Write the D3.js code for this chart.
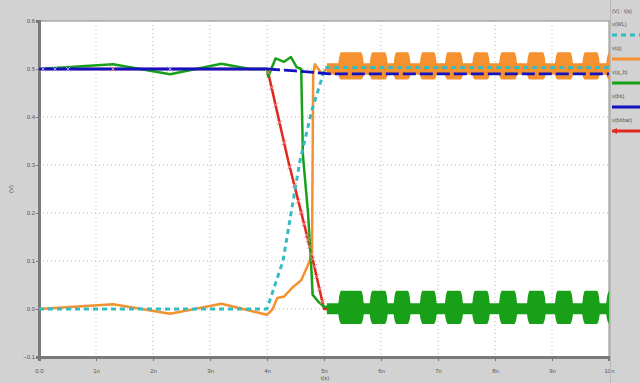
<!DOCTYPE html>
<html>
<head>
<meta charset="utf-8">
<script src="https://cdn.jsdelivr.net/npm/d3@7"></script>
<style>
  body { margin: 0; background: #d2d2d2; }
  svg { display: block; }
  text { font-family: "Liberation Sans", "DejaVu Sans", sans-serif; fill: #555; }
</style>
</head>
<body>
<svg width="640" height="383"></svg>
<script>
// ===== data (t in ns, values in V) =====
var xTicks = [0, 1, 2, 3, 4, 5, 6, 7, 8, 9, 10];
var xTickLabels = ["0.0", "1n", "2n", "3n", "4n", "5n", "6n", "7n", "8n", "9n", "10n"];
var yTicks = [-0.1, 0.0, 0.1, 0.2, 0.3, 0.4, 0.5, 0.6];

var seriesNames = ["v(WL)", "v(q)", "v(q_b)", "v(bit)", "v(bitbar)"];

var wlT = [0, 4.0, 4.28, 4.58, 4.79, 5.02, 10];
var wlV = [0, 0, 0.1, 0.31, 0.415, 0.503, 0.503];

var bitT = [0, 4.0];
var bitV = [0.5, 0.5];
var bitLateT = [4.0, 4.5, 4.9, 5.1, 10];
var bitLateV = [0.5, 0.496, 0.492, 0.49, 0.49];
var bitMarkT = [0.07, 0.28, 0.51, 2.3];

var bitbarT = [0, 4.0, 4.02, 4.37, 4.75, 5.0, 10];
var bitbarV = [0.5, 0.5, 0.493, 0.31, 0.13, 0.0, 0.0];
var bitbarMarkT = [1.3, 4.02, 4.08, 4.15, 4.22, 4.3, 4.4, 4.48, 4.55, 4.6, 4.65, 4.7, 4.72, 4.75, 4.78, 4.8, 4.83, 4.87, 4.92, 4.97];

var qT = [0, 1.3, 2.3, 3.2, 4.0, 4.1, 4.18, 4.3, 4.45, 4.6, 4.75, 4.79, 4.81, 4.84, 4.96, 5.05, 5.25];
var qV = [0, 0.01, -0.01, 0.011, -0.012, 0.0, 0.023, 0.026, 0.045, 0.06, 0.1, 0.12, 0.49, 0.51, 0.49, 0.5, 0.5];

var qbT = [0, 1.3, 2.3, 3.2, 3.7, 4.0, 4.02, 4.15, 4.3, 4.42, 4.52, 4.6, 4.63, 4.72, 4.78, 4.8, 4.9, 5.0, 5.25];
var qbV = [0.5, 0.51, 0.489, 0.511, 0.5, 0.5, 0.484, 0.522, 0.515, 0.525, 0.504, 0.5, 0.32, 0.2, 0.08, 0.03, 0.015, 0.005, 0.0];

// ringing after the write: bursts (ns) and envelope levels (V)
var burstStart = [5.25, 5.8, 6.22, 6.68, 7.12, 7.6, 8.07, 8.56, 9.05, 9.53, 9.95];
var burstEnd   = [5.7, 6.12, 6.52, 6.98, 7.44, 7.91, 8.39, 8.89, 9.37, 9.84, 10.0];
var qBurst = [0.478, 0.535];    // lo, hi inside a burst
var qGap = [0.488, 0.512];      // lo, hi between bursts
var qbBurst = [-0.031, 0.038];
var qbGap = [-0.011, 0.012];

var colors = ["#35bcc2", "#f5912e", "#18a018", "#1212c0", "#e0281e"];

// ===== layout =====
var svg = d3.select("svg");
var x = d3.scaleLinear().domain([0, 10]).range([39, 609]);
var y = d3.scaleLinear().domain([-0.1, 0.6]).range([357, 21]);

svg.append("rect").attr("x", 39).attr("y", 21).attr("width", 570).attr("height", 336)
    .attr("fill", "#fff").attr("stroke", "#8a8a8a").attr("stroke-width", 1);

// dotted grid
svg.append("g").selectAll("line").data(xTicks.slice(1, -1)).enter().append("line")
    .attr("x1", d => x(d)).attr("x2", d => x(d)).attr("y1", y(0.6)).attr("y2", y(-0.1))
    .attr("stroke", "#b5b5b5").attr("stroke-dasharray", "1,3");
svg.append("g").selectAll("line").data(yTicks.slice(1, -1)).enter().append("line")
    .attr("x1", x(0)).attr("x2", x(10)).attr("y1", d => y(d)).attr("y2", d => y(d))
    .attr("stroke", "#b5b5b5").attr("stroke-dasharray", "1,3");

// axes
var xAxis = svg.append("g").attr("transform", "translate(0,357)")
    .call(d3.axisBottom(x).tickValues(xTicks).tickSize(4).tickPadding(8)
        .tickFormat((d, i) => xTickLabels[i]));
var yAxis = svg.append("g").attr("transform", "translate(39,0)")
    .call(d3.axisLeft(y).tickValues(yTicks).tickSize(3).tickPadding(1)
        .tickFormat(d3.format(".1f")));
[xAxis, yAxis].forEach(function(a) {
    a.select(".domain").attr("stroke", "#7a7a7a").attr("stroke-width", 3);
    a.selectAll(".tick line").attr("stroke", "#777");
    a.selectAll(".tick text").attr("font-size", 6).attr("fill", "#555");
});

svg.append("text").attr("transform", "translate(13,189) rotate(-90)")
    .attr("text-anchor", "middle").attr("font-size", 6).text("(V)");
svg.append("text").attr("x", 325).attr("y", 380)
    .attr("text-anchor", "middle").attr("font-size", 6).text("t(s)");

// ===== traces =====
var plot = svg.append("g");
var line = d3.line().x(d => x(d[0])).y(d => y(d[1]));
var area = d3.area().curve(d3.curveMonotoneX)
    .x(d => x(d[0])).y0(d => y(d[1])).y1(d => y(d[2]));

function pts(t, v) { return t.map((d, i) => [d, v[i]]); }

// envelope table: gap level between bursts, rounded shoulders at burst edges
function envelope(burst, gap) {
    var mid = [(burst[0] + gap[0]) / 2, (burst[1] + gap[1]) / 2];
    var rows = [[5.05, gap[0], gap[1]]];
    burstStart.forEach(function(s, i) {
        var e = burstEnd[i];
        rows.push([s, gap[0], gap[1]]);
        rows.push([s + 0.015, mid[0], mid[1]]);
        rows.push([s + 0.05, burst[0], burst[1]]);
        if (e < 10) {
            rows.push([e - 0.05, burst[0], burst[1]]);
            rows.push([e - 0.015, mid[0], mid[1]]);
            rows.push([e, gap[0], gap[1]]);
        } else {
            rows.push([e, burst[0], burst[1]]);
        }
    });
    return rows;
}

function trace(data, color, dash, width) {
    plot.append("path").datum(data).attr("d", line)
        .attr("fill", "none").attr("stroke", color).attr("stroke-width", width || 2.5)
        .attr("stroke-linejoin", "round").attr("stroke-dasharray", dash || null);
}

function marks(t, series, color) {
    var s = 2.5;
    plot.append("g").selectAll("path").data(t).enter().append("path")
        .attr("d", function(d) {
            var px = x(d), py = y(series(d));
            return "M" + (px - s) + "," + (py - s) + "L" + (px + s) + "," + (py + s) +
                   "M" + (px - s) + "," + (py + s) + "L" + (px + s) + "," + (py - s);
        })
        .attr("stroke", color).attr("stroke-width", 1).attr("fill", "none");
}

var bitbarAt = d3.scaleLinear().domain(bitbarT).range(bitbarV);
var bitAt = d3.scaleLinear().domain(bitT.concat(bitLateT.slice(1))).range(bitV.concat(bitLateV.slice(1)));

trace(pts(bitbarT, bitbarV), colors[4]);

plot.append("path").datum(envelope(qBurst, qGap)).attr("d", area).attr("fill", colors[1]);
trace(pts(qT, qV), colors[1]);

plot.append("path").datum(envelope(qbBurst, qbGap)).attr("d", area).attr("fill", colors[2]);
trace(pts(qbT, qbV), colors[2]);

trace(pts(wlT, wlV), colors[0], "5,4", 3);

trace(pts(bitT, bitV), colors[3], null, 2.8);
trace(pts(bitLateT, bitLateV), colors[3], "13,4", 2.8);

marks(bitbarMarkT, bitbarAt, "#f08a8a");
marks(bitMarkT, bitAt, "#a9a0f0");

// ===== legend =====
svg.append("line").attr("x1", 610.5).attr("x2", 610.5).attr("y1", 0).attr("y2", 383)
    .attr("stroke", "#b8b8b8");
var leg = svg.append("g");
leg.append("text").attr("x", 612).attr("y", 13).attr("font-size", 5.5).text("(V) : t(s)");
seriesNames.forEach(function(name, i) {
    var ty = 26 + i * 24;
    leg.append("text").attr("x", 612).attr("y", ty).attr("font-size", 5.5).text(name);
    leg.append("line").attr("x1", 612).attr("x2", 640).attr("y1", ty + 9).attr("y2", ty + 9)
        .attr("stroke", colors[i]).attr("stroke-width", 3)
        .attr("stroke-dasharray", i === 0 ? "5,4" : null);
});
leg.append("path").attr("d", "M612," + (26 + 4 * 24 + 9) + "l5,-3v6z").attr("fill", colors[4]);
</script>
</body>
</html>
